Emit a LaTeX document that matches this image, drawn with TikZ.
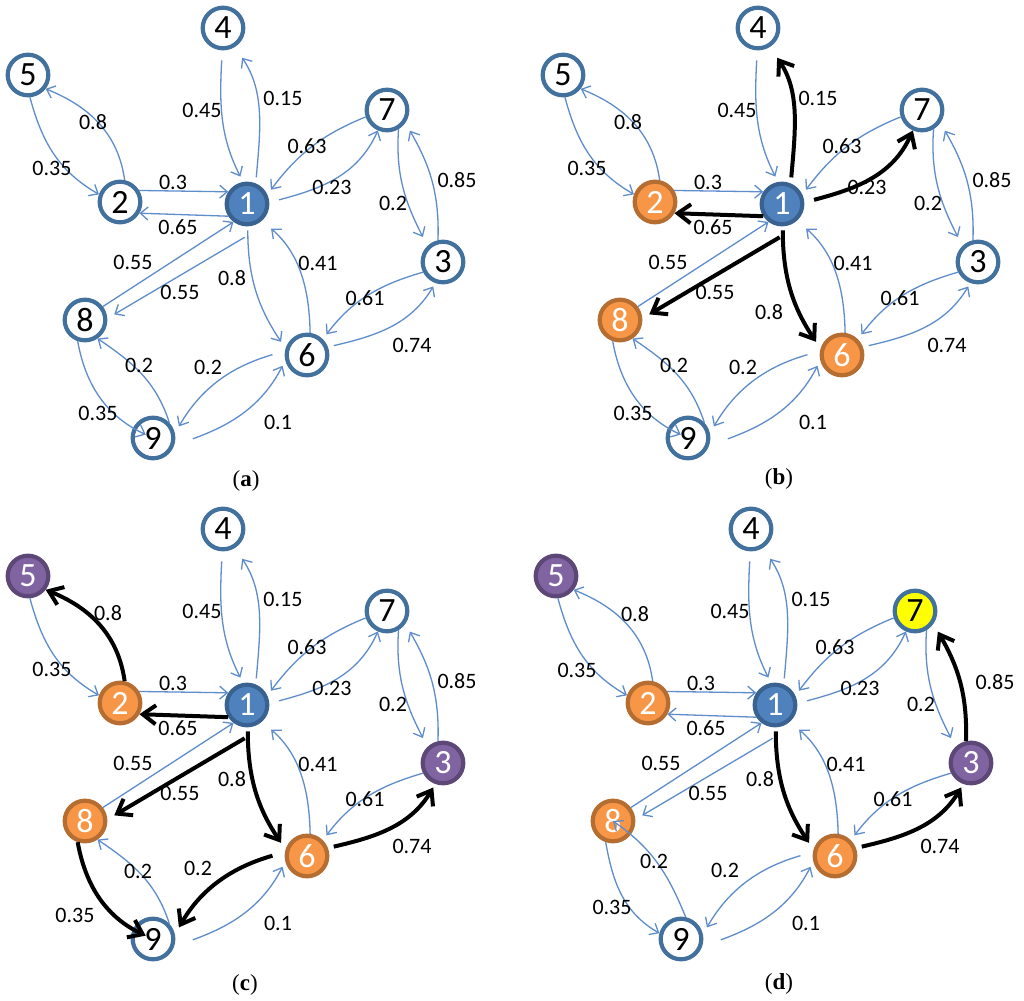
\documentclass[tikz,border=0pt]{standalone}
\usepackage{fontspec}
\setmainfont{Carlito}
\newfontfamily\capfont{Liberation Serif}
\usetikzlibrary{arrows.meta}
\definecolor{edgeblue}{HTML}{5F8DCB}
\definecolor{nodeborder}{HTML}{41719C}
\definecolor{bluefill}{HTML}{4F81BD}
\definecolor{blueborder}{HTML}{3A6291}
\definecolor{orangefill}{HTML}{F79646}
\definecolor{orangeborder}{HTML}{B66D31}
\definecolor{purplefill}{HTML}{8064A2}
\definecolor{purpleborder}{HTML}{5C4776}
\definecolor{yellowfill}{HTML}{FFFF00}
\tikzset{
  vtx/.style={circle, line width=2.1pt, minimum size=20.3pt, inner sep=0pt, font=\fontsize{17}{17}\selectfont},
  wnode/.style={vtx, draw=nodeborder, fill=white, text=black},
  bnode/.style={vtx, draw=blueborder, fill=bluefill, text=white},
  onode/.style={vtx, draw=orangeborder, fill=orangefill, text=white},
  pnode/.style={vtx, draw=purpleborder, fill=purplefill, text=white},
  ynode/.style={vtx, draw=nodeborder, fill=yellowfill, text=black},
  thinedge/.style={draw=edgeblue, line width=0.65pt, -{Straight Barb[length=3.8pt,width=6.5pt]}},
  thickedge/.style={draw=black, line width=2pt, -{Straight Barb[length=6.5pt,width=9.5pt]}},
  lbl/.style={font=\fontsize{11}{11}\selectfont, inner sep=0pt, text=black},
  captext/.style={font=\capfont\fontsize{11.5}{11.5}\selectfont, inner sep=0pt},
  v1/.style={wnode}, v2/.style={wnode}, v3/.style={wnode}, v4/.style={wnode}, v5/.style={wnode},
  v6/.style={wnode}, v7/.style={wnode}, v8/.style={wnode}, v9/.style={wnode},
  e52/.style={thinedge}, e25/.style={thinedge}, e21/.style={thinedge}, e12/.style={thinedge},
  e41/.style={thinedge}, e14/.style={thinedge}, e71/.style={thinedge}, e17/.style={thinedge},
  e73/.style={thinedge}, e37/.style={thinedge}, e61/.style={thinedge}, e16/.style={thinedge},
  e36/.style={thinedge}, e63/.style={thinedge}, e96/.style={thinedge}, e69/.style={thinedge},
  e81/.style={thinedge}, e18/.style={thinedge}, e89/.style={thinedge}, e98/.style={thinedge},
}
% label positions (panel-relative pixels)
\newcommand\Lft{52,168}
\newcommand\Ltf{93,122}
\newcommand\Lto{173,182}
\newcommand\Lot{178,227}
\newcommand\Lfo{202,110}
\newcommand\Lof{283,98}
\newcommand\Lso{307,146}
\newcommand\Los{332,187}
\newcommand\Lsth{393,203}
\newcommand\Lths{457,180}
\newcommand\Lxo{318,263}
\newcommand\Lox{232,278}
\newcommand\Lthx{365,298}
\newcommand\Lxth{412,345}
\newcommand\Leo{133,262}
\newcommand\Loe{180,292}
\newcommand\Len{98,413}
\newcommand\Lne{139,365}
\newcommand\Lxn{208,367}
\newcommand\Lnx{278,422}
\newcommand\eightnine{\draw[e89,shorten >=4pt] (\pfx8.-109) to[out=-80,in=155] (\pfx9.center);}
\newcommand\nineeight{\draw[e98] (\pfx9.43) to[out=108,in=-34] (\pfx8.-56);}
\newcommand\graphbody{%
\node[v1] (\pfx1) at (247,204) {1};
\node[v2] (\pfx2) at (120,202) {2};
\node[v3] (\pfx3) at (443,262) {3};
\node[v4] (\pfx4) at (223,28) {4};
\node[v5] (\pfx5) at (28,75) {5};
\node[v6] (\pfx6) at (307,355) {6};
\node[v7] (\pfx7) at (387,110) {7};
\node[v8] (\pfx8) at (85,320) {8};
\node[v9] (\pfx9) at (153,438) {9};
\draw[e52] (\pfx5.275) to[out=-75,in=150] (\pfx2.160);
\draw[e25] (\pfx2.78) to[out=98,in=-22] (\pfx5.-38);
\draw[e21] (\pfx2.31) -- (\pfx1.147);
\draw[e12] (\pfx1.213) -- (\pfx2.330);
\draw[e41,shorten <=5pt,shorten >=3pt] (\pfx4.268) to[out=-93,in=117] (\pfx1.100);
\draw[e14,shorten <=3pt,shorten >=6.5pt] (\pfx1.67) to[out=85,in=-56] (\pfx4.-58);
\draw[e71,shorten >=3pt] (\pfx7.198) to[out=-158,in=53] (\pfx1.25);
\draw[e17,shorten <=5pt] (\pfx1.4) to[out=15,in=-114] (\pfx7.246);
\draw[e73,shorten >=5pt] (\pfx7.-59) to[out=-94,in=117] (\pfx3.134);
\draw[e37,shorten >=4.5pt] (\pfx3.103) to[out=88,in=-60] (\pfx7.-35);
\draw[e61,shorten >=6pt] (\pfx6.82) to[out=91,in=-41] (\pfx1.-48);
\draw[e16,shorten <=2pt,shorten >=4pt] (\pfx1.-88) to[out=-90,in=124] (\pfx6.163);
\draw[e36,shorten >=3pt] (\pfx3.207) to[out=-164,in=53] (\pfx6.45);
\draw[e63,shorten <=3pt,shorten >=2pt] (\pfx6.21) to[out=13,in=-121] (\pfx3.250);
\draw[e96,shorten <=10pt,shorten >=3pt] (\pfx9.-20) to[out=20,in=-117] (\pfx6.194);
\draw[e69,shorten <=6.5pt,shorten >=4pt] (\pfx6.170) to[out=-164,in=60] (\pfx9.12);
\draw[e81] (\pfx8.37) -- (\pfx1.233);
\draw[e18,shorten >=4pt] ([yshift=-5.5pt]\pfx1.-96) -- (\pfx8.4);
\eightnine
\nineeight
\node[lbl] at (\Lft) {0.35};
\node[lbl] at (\Ltf) {0.8};
\node[lbl] at (\Lto) {0.3};
\node[lbl] at (\Lot) {0.65};
\node[lbl] at (\Lfo) {0.45};
\node[lbl] at (\Lof) {0.15};
\node[lbl] at (\Lso) {0.63};
\node[lbl] at (\Los) {0.23};
\node[lbl] at (\Lsth) {0.2};
\node[lbl] at (\Lths) {0.85};
\node[lbl] at (\Lxo) {0.41};
\node[lbl] at (\Lox) {0.8};
\node[lbl] at (\Lthx) {0.61};
\node[lbl] at (\Lxth) {0.74};
\node[lbl] at (\Leo) {0.55};
\node[lbl] at (\Loe) {0.55};
\node[lbl] at (\Len) {0.35};
\node[lbl] at (\Lne) {0.2};
\node[lbl] at (\Lxn) {0.2};
\node[lbl] at (\Lnx) {0.1};
}
\begin{document}
\begin{tikzpicture}[x=0.5pt,y=-0.5pt]
\fill[white] (0,0) rectangle (1024,1001);
\useasboundingbox (0,0) rectangle (1024,1001);
% panel (a)
\begin{scope}[v1/.style={bnode}]
\def\pfx{a}
\graphbody
\end{scope}
% panel (b)
\begin{scope}[shift={(535,0)}, v1/.style={bnode}, v2/.style={onode}, v6/.style={onode}, v8/.style={onode},
  e14/.style={thickedge}, e17/.style={thickedge}, e12/.style={thickedge}, e18/.style={thickedge}, e16/.style={thickedge}]
\def\pfx{b}
\def\Lox{234,312}
\graphbody
\end{scope}
% panel (c)
\begin{scope}[shift={(0,501)}, v1/.style={bnode}, v2/.style={onode}, v6/.style={onode}, v8/.style={onode},
  v5/.style={pnode}, v3/.style={pnode},
  e25/.style={thickedge}, e12/.style={thickedge}, e18/.style={thickedge}, e16/.style={thickedge},
  e63/.style={thickedge}, e69/.style={thickedge}, e89/.style={thickedge}]
\def\pfx{c}
\def\Ltf{108,112}\def\Len{75,414}\def\Lxn{198,367}\def\Lne{138,370}
\graphbody
\end{scope}
% panel (d)
\begin{scope}[shift={(528,501)}, v1/.style={bnode}, v2/.style={onode}, v6/.style={onode}, v8/.style={onode},
  v5/.style={pnode}, v3/.style={pnode}, v7/.style={ynode},
  e16/.style={thickedge}, e63/.style={thickedge}, e37/.style={thickedge}]
\def\pfx{d}
\def\Ltf{107,113}\def\Len{84,406}\def\Lne{126,360}\def\Lxn{197,369}\def\Lths{467,181}\def\Lft{49,169}
\def\eightnine{\draw[e89] (\pfx8.-109) to[out=-80,in=150] (\pfx9.165);}
\def\nineeight{\draw[e98] (\pfx9.78) to[out=112,in=-35] (\pfx8.center);}
\graphbody
\end{scope}
\node[captext] (capa) at (246,481) {(\textbf{a})};
\node[captext] (capb) at (779,479) {(\textbf{b})};
\node[captext] (capc) at (245,985) {(\textbf{c})};
\node[captext] (capd) at (779,984) {(\textbf{d})};
\end{tikzpicture}
\end{document}
